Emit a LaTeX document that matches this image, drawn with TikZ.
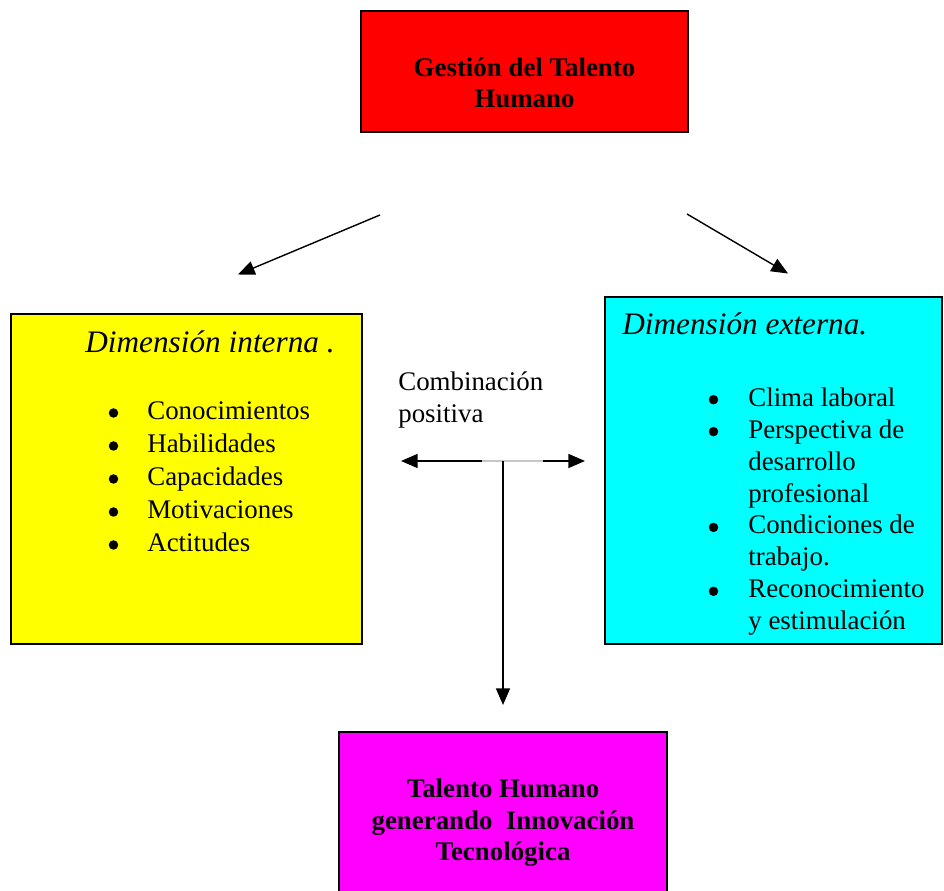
\documentclass[tikz,border=0pt]{standalone}
\usepackage{fontspec}
\setmainfont{Liberation Serif}
\usetikzlibrary{arrows.meta}

\definecolor{boxred}{RGB}{255,0,0}
\definecolor{boxyellow}{RGB}{255,255,0}
\definecolor{boxcyan}{RGB}{0,255,255}
\definecolor{boxmagenta}{RGB}{255,0,255}

\tikzset{
  panel/.style={draw=black, line width=1.2pt, inner sep=0pt},
  tip/.tip={Triangle[length=9.5pt,width=8pt]},
  link/.style={line width=0.8pt, -tip},
  twoway/.style={line width=0.8pt, tip-tip},
  txt/.style={inner sep=0pt, font=\fontsize{15.3}{17.7}\selectfont},
  head/.style={inner sep=0pt, anchor=base west, font=\fontsize{17.8}{21}\selectfont\itshape},
  strong/.style={inner sep=0pt, anchor=base, font=\fontsize{15.3}{17.8}\selectfont\bfseries},
  items/.style={inner sep=0pt, anchor=base west},
  bulletdot/.style={fill=black},
}

\begin{document}
\begin{tikzpicture}[x=0.02cm, y=-0.02cm]
  \useasboundingbox (0,0) rectangle (944,891);
  \clip (0,0) rectangle (944,891);

  % boxes
  \node[panel, fill=boxred, minimum width=6.54cm, minimum height=2.42cm] (gth) at (524.5,71.5) {};
  \node[panel, fill=boxyellow, minimum width=7.02cm, minimum height=6.6cm] (din) at (186.5,479) {};
  \node[panel, fill=boxcyan, minimum width=6.74cm, minimum height=6.94cm] (dex) at (773.5,470.5) {};
  \node[panel, fill=boxmagenta, minimum width=6.56cm, minimum height=3.36cm] (thi) at (503,816) {};

  % box texts
  \node[strong] (gthtext) at (524.5,76.7)
    {\begin{tabular}[t]{@{}c@{}}Gestión del Talento\\Humano\end{tabular}};

  \node[head] (dintitle) at (85,353) {Dimensión interna .};
  \node[items, font=\fontsize{15.3}{18.7}\selectfont] (dinlist) at (147,420)
    {\begin{tabular}[t]{@{}l@{}}
      Conocimientos\\
      Habilidades\\
      Capacidades\\
      Motivaciones\\
      Actitudes
     \end{tabular}};
  % list bullets, one per item (line pitch 33)
  \foreach \k in {0,...,4}
    \fill[bulletdot] (113.5,{413+33*\k}) circle (0.095cm);

  \node[head] (dextitle) at (622,335) {Dimensión externa.};
  \node[items, font=\fontsize{15.3}{18.1}\selectfont] (dexlist) at (748,406.7)
    {\begin{tabular}[t]{@{}l@{}}
      Clima laboral\\
      Perspectiva de\\
      desarrollo\\
      profesional\\
      Condiciones de\\
      trabajo.\\
      Reconocimiento\\
      y estimulación
     \end{tabular}};
  % list bullets on the first line of each item (line pitch 31.93)
  \foreach \k in {0,1,4,6}
    \fill[bulletdot] (713.5,{399.7+31.93*\k}) circle (0.095cm);

  \node[strong] (thitext) at (503,798)
    {\begin{tabular}[t]{@{}c@{}}Talento Humano\\generando~~Innovación\\Tecnológica\end{tabular}};

  \node[txt, anchor=base west] (comb) at (398,391)
    {\begin{tabular}[t]{@{}l@{}}Combinación\\positiva\end{tabular}};

  % connector end points
  \coordinate (gl) at (380,215);
  \coordinate (il) at (238,274.5);
  \coordinate (gr) at (687,214);
  \coordinate (ir) at (788,273.5);
  \coordinate (cl) at (401,461);
  \coordinate (cr) at (585,461);
  \coordinate (cm) at (503,461);
  \coordinate (cd) at (503,705);
  \coordinate (ga) at (482,461);
  \coordinate (gb) at (543,461);

  % connectors
  \draw[link] (gl) -- (il);
  \draw[link] (gr) -- (ir);
  \draw[twoway] (cl) -- (cr);
  \draw[gray!45, line width=0.8pt] (ga) -- (gb);
  \draw[link] (cm) -- (cd);
\end{tikzpicture}
\end{document}
